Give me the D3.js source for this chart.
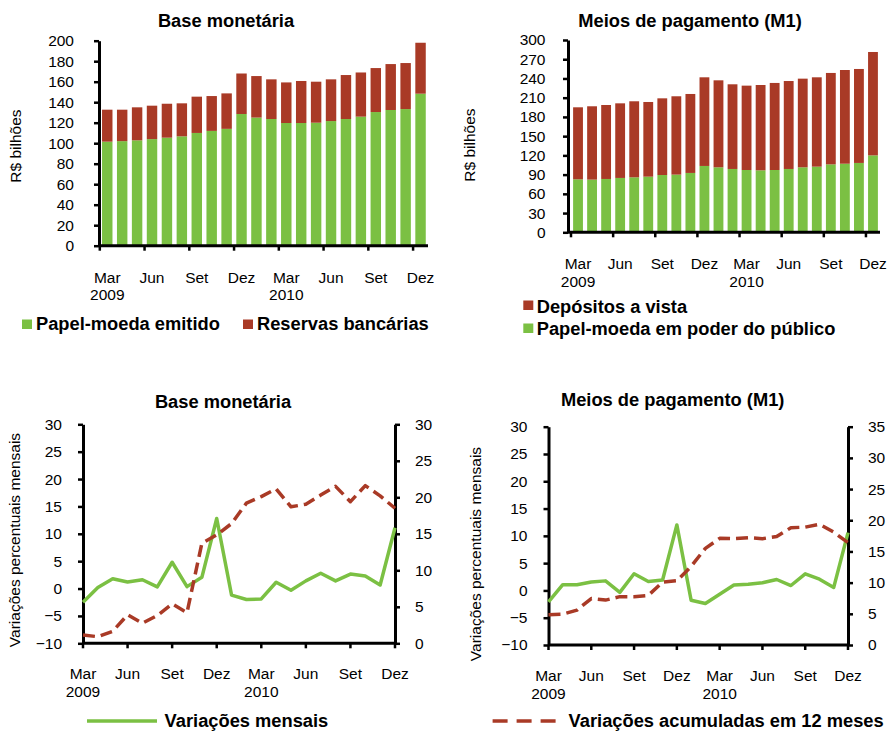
<!DOCTYPE html>
<html><head><meta charset="utf-8">
<script src="https://cdn.jsdelivr.net/npm/d3@7"></script>
<style>
body{margin:0;background:#fff}
svg{display:block;font-family:"Liberation Sans",Arial,Helvetica,sans-serif}
</style>
</head><body>
<script>
// ---------- DATA ----------
const months = ["Mar","Abr","Mai","Jun","Jul","Ago","Set","Out","Nov","Dez","Jan","Fev","Mar","Abr","Mai","Jun","Jul","Ago","Set","Out","Nov","Dez"];
const years  = [2009,2009,2009,2009,2009,2009,2009,2009,2009,2009,2010,2010,2010,2010,2010,2010,2010,2010,2010,2010,2010,2010];
const categories = months.map((m,i)=>m+" "+years[i]);

// Base monetária (R$ bilhões)
const papelMoedaEmitido = [101.5,102,102.8,104,105.4,106.7,110,112,114,128.5,125,123.6,119.7,119.7,120,121.6,123.6,125.9,130.4,132.4,133.3,148.3];
const reservasBancarias = [31.2,30.7,32.2,32.6,33.1,32.2,35.4,34.0,34.6,39.5,40.5,38.7,39.6,41.0,40.0,40.7,42.9,43.1,42.9,44.8,44.9,49.7];

// Meios de pagamento M1 (R$ bilhões)
const papelMoedaPoderPublico = [82.7,82.2,83.2,84.8,85.8,86.8,89.4,90,92.6,103.5,101.4,98.8,97.2,96.7,97.2,98.8,101.4,102.4,106,107,108.2,120];
const depositosVista = [112.3,114.4,115.4,116.4,118.6,116.5,119.6,122.2,123.2,138.3,135.7,132.1,131.6,133.1,135.8,137.2,138.3,139.4,142.6,146.2,146.6,161.3];

// Variações (%)
const baseMensal = [-2.5,0.2,1.8,1.2,1.6,0.3,4.8,0.35,2.05,12.8,-1.2,-2.0,-1.9,1.15,-0.3,1.4,2.8,1.4,2.65,2.3,0.65,11.1];
const base12m    = [1.15,0.9,1.65,3.9,2.75,3.8,5.4,4.2,13.7,14.85,16.4,19.2,20.1,21.15,18.7,19.05,20.3,21.5,19.4,21.6,20.2,18.5];
const m1Mensal   = [-2.1,1.05,1.05,1.55,1.75,-0.35,3.05,1.65,1.9,12.0,-1.8,-2.4,-0.7,1.0,1.15,1.4,2.0,0.9,3.05,2.05,0.55,10.6];
const m112m      = [4.85,4.95,5.6,7.45,7.2,7.75,7.75,7.95,10.1,10.3,12.6,15.5,17.1,17.05,17.2,17.05,17.4,18.8,18.9,19.35,18.1,16.4];

// Tick values
const baseBarTicks = [0,20,40,60,80,100,120,140,160,180,200];
const m1BarTicks = [0,30,60,90,120,150,180,210,240,270,300];
const leftLineTicks = [-10,-5,0,5,10,15,20,25,30];
const baseRightTicks = [0,5,10,15,20,25,30];
const m1RightTicks = [0,5,10,15,20,25,30,35];
const labelEvery = 3;

// ---------- STYLE ----------
const GREEN = "#7bc043";
const RED = "#a93a26";
const TICK_FS = 15.5;
const BOLD_FS = 18.3;

const svg = d3.select("body").append("svg").attr("width",892).attr("height",731);

function styleAxis(g){
  g.attr("font-family",null).attr("font-size",null);
  g.select(".domain").attr("stroke","#000").attr("stroke-width",3);
  g.selectAll(".tick line").attr("stroke","#000").attr("stroke-width",2.5);
  g.selectAll(".tick text").attr("fill","#000").attr("font-size",TICK_FS);
}

function title(txt, cx, y){
  svg.append("text").attr("x",cx).attr("y",y).attr("text-anchor","middle")
    .attr("font-weight","bold").attr("font-size",BOLD_FS).attr("fill","#000").text(txt);
}
function ylabel(txt, cx, cy){
  svg.append("text").attr("transform",`translate(${cx},${cy}) rotate(-90)`)
    .attr("text-anchor","middle").attr("dy","0.35em").attr("font-size",TICK_FS).attr("fill","#000").text(txt);
}
function xLabels(xpos, yb1, yb2){
  d3.range(0,categories.length,labelEvery).forEach(i=>{
    svg.append("text").attr("x",xpos(i)).attr("y",yb1).attr("text-anchor","middle")
      .attr("font-size",TICK_FS).attr("fill","#000").text(months[i]);
    if(months[i]==="Mar"){
      svg.append("text").attr("x",xpos(i)).attr("y",yb2).attr("text-anchor","middle")
        .attr("font-size",TICK_FS).attr("fill","#000").text(years[i]);
    }
  });
}

function barPanel(c){
  const x = d3.scaleBand().domain(categories).range([c.x0,c.x1]).paddingInner(0.3).paddingOuter(0.15);
  const y = d3.scaleLinear().domain([0,c.yMax]).range([c.yBot,c.yTop]);
  const rows = categories.map((cat,i)=>({cat, lower:c.lower[i], upper:c.upper[i]}));
  const series = d3.stack().keys(["lower","upper"])(rows);
  const colors = {lower:c.lowerColor, upper:c.upperColor};
  svg.append("g").selectAll("g").data(series).join("g").attr("fill",d=>colors[d.key])
    .selectAll("rect").data(d=>d).join("rect")
    .attr("x",d=>x(d.data.cat)).attr("width",x.bandwidth())
    .attr("y",d=>y(d[1])).attr("height",d=>y(d[0])-y(d[1]));
  const yg = svg.append("g").attr("transform",`translate(${c.ax},0)`)
    .call(d3.axisLeft(y).tickValues(c.ticks).tickSizeInner(5).tickSizeOuter(0).tickPadding(c.pad));
  styleAxis(yg);
  svg.append("line").attr("x1",c.ax).attr("x2",c.x1).attr("y1",y(0)).attr("y2",y(0))
    .attr("stroke","#000").attr("stroke-width",3);
  const half = x.step()*x.paddingInner()/2;
  d3.range(0,categories.length,labelEvery).forEach(i=>{
    const bx = x(categories[i]) - half;
    svg.append("line").attr("x1",bx).attr("x2",bx).attr("y1",y(0)).attr("y2",y(0)+5)
      .attr("stroke","#000").attr("stroke-width",2.5);
  });
  xLabels(i=>x(categories[i])+x.bandwidth()/2, c.lab1, c.lab2);
}

function linePanel(c){
  const x = d3.scalePoint().domain(categories).range([c.x0,c.x1]);
  const yl = d3.scaleLinear().domain([-10,30]).range([c.yBot,c.yTop]);
  const yr = d3.scaleLinear().domain([0,c.rMax]).range([c.yBot,c.yTop]);
  const gl = svg.append("g").attr("transform",`translate(${c.x0},0)`)
    .call(d3.axisLeft(yl).tickValues(leftLineTicks).tickSizeInner(5).tickSizeOuter(0).tickPadding(16));
  styleAxis(gl);
  const gr = svg.append("g").attr("transform",`translate(${c.x1},0)`)
    .call(d3.axisRight(yr).tickValues(c.rTicks).tickSizeInner(5).tickSizeOuter(0).tickPadding(15));
  styleAxis(gr);
  svg.append("line").attr("x1",c.x0).attr("x2",c.x1).attr("y1",c.yBot).attr("y2",c.yBot)
    .attr("stroke","#000").attr("stroke-width",3);
  d3.range(0,categories.length,labelEvery).forEach(i=>{
    const px = x(categories[i]);
    svg.append("line").attr("x1",px).attr("x2",px).attr("y1",c.yBot).attr("y2",c.yBot+5)
      .attr("stroke","#000").attr("stroke-width",2.5);
  });
  const lineL = d3.line().x((d,i)=>x(categories[i])).y(d=>yl(d));
  const lineR = d3.line().x((d,i)=>x(categories[i])).y(d=>yr(d));
  svg.append("path").datum(c.monthly).attr("d",lineL).attr("fill","none")
    .attr("stroke",GREEN).attr("stroke-width",3.5).attr("stroke-linejoin","round");
  svg.append("path").datum(c.acc).attr("d",lineR).attr("fill","none")
    .attr("stroke",RED).attr("stroke-width",3.5).attr("stroke-dasharray","12,6").attr("stroke-linejoin","round");
  xLabels(i=>x(categories[i]), c.lab1, c.lab2);
}

function legendSquare(x, y, color, txt, tx, ty){
  svg.append("rect").attr("x",x).attr("y",y).attr("width",10).attr("height",9.5).attr("fill",color);
  svg.append("text").attr("x",tx).attr("y",ty).attr("font-weight","bold").attr("font-size",BOLD_FS)
    .attr("fill","#000").text(txt);
}

// ---------- PANEL 1 ----------
title("Base monetária", 226, 26.7);
ylabel("R$ bilhões", 16, 146);
barPanel({x0:99.8, x1:428, ax:99, yTop:40.7, yBot:245.7, yMax:200, ticks:baseBarTicks, pad:20,
  lower:papelMoedaEmitido, upper:reservasBancarias, lowerColor:GREEN, upperColor:RED, lab1:282.7, lab2:300});
legendSquare(22, 319.5, GREEN, "Papel-moeda emitido", 36, 330);
legendSquare(243, 319.5, RED, "Reservas bancárias", 257, 330);

// ---------- PANEL 2 ----------
title("Meios de pagamento (M1)", 690, 26.7);
ylabel("R$ bilhões", 470, 145);
barPanel({x0:571, x1:880, ax:568, yTop:40, yBot:232.3, yMax:300, ticks:m1BarTicks, pad:17.5,
  lower:papelMoedaPoderPublico, upper:depositosVista, lowerColor:GREEN, upperColor:RED, lab1:269.3, lab2:287.3});
legendSquare(523.3, 300.5, RED, "Depósitos a vista", 536.7, 312.7);
legendSquare(523.3, 323.5, GREEN, "Papel-moeda em poder do público", 536.7, 335);

// ---------- PANEL 3 ----------
title("Base monetária", 223, 407.7);
ylabel("Variações percentuais mensais", 15, 540);
linePanel({x0:83, x1:395, yTop:424.3, yBot:643.3, rMax:30, rTicks:baseRightTicks,
  monthly:baseMensal, acc:base12m, lab1:679.3, lab2:697.3});

// ---------- PANEL 4 ----------
title("Meios de pagamento (M1)", 672.7, 406);
ylabel("Variações percentuais mensais", 476, 554);
linePanel({x0:548.5, x1:848, yTop:426.7, yBot:645, rMax:35, rTicks:m1RightTicks,
  monthly:m1Mensal, acc:m112m, lab1:680.7, lab2:699.3});

// ---------- BOTTOM LEGEND ----------
svg.append("line").attr("x1",87).attr("x2",157).attr("y1",721).attr("y2",721)
  .attr("stroke",GREEN).attr("stroke-width",3.5);
svg.append("text").attr("x",164.6).attr("y",726.5).attr("font-weight","bold").attr("font-size",BOLD_FS)
  .attr("fill","#000").text("Variações mensais");
svg.append("line").attr("x1",492.6).attr("x2",561).attr("y1",721).attr("y2",721)
  .attr("stroke",RED).attr("stroke-width",3.5).attr("stroke-dasharray","15,9");
svg.append("text").attr("x",568.6).attr("y",726.5).attr("font-weight","bold").attr("font-size",BOLD_FS)
  .attr("fill","#000").text("Variações acumuladas em 12 meses");
</script>
</body></html>
